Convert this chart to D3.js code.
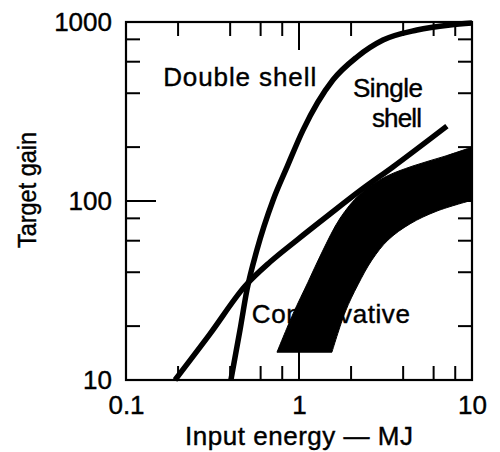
<!DOCTYPE html>
<html>
<head>
<meta charset="utf-8">
<script src="https://cdn.jsdelivr.net/npm/d3@7/dist/d3.min.js"></script>
<style>
  html, body { margin: 0; padding: 0; background: #fff; }
  text { font-family: "Liberation Sans", Arial, Helvetica, sans-serif; fill: #000; }
</style>
</head>
<body>
<script>
// ---------- data ----------
const xMajorTicks = [0.1, 1, 10];
const xTickLabels = ["0.1", "1", "10"];
const xMinorTicks = [0.2, 0.4, 0.6, 0.8, 2, 4, 6, 8];
const yMajorTicks = [10, 100, 1000];
const yTickLabels = ["10", "100", "1000"];
const yMinorTicks = [20, 40, 60, 80, 200, 400, 600, 800];

// Double shell curve (input energy MJ, target gain)
const doubleShellEnergy = [0.404, 0.456, 0.50, 0.571, 0.708, 0.853, 1.055, 1.57, 2.16, 3.06, 4.81, 7.46, 10];
const doubleShellGain   = [10, 19.0, 31.8, 53.2, 101, 155, 249, 474, 637, 793, 902, 962, 987];

// Single shell curve
const singleShellEnergy = [0.192, 0.306, 0.488, 0.680, 0.973, 1.51, 2.25, 3.49, 7.16];
const singleShellGain   = [10, 18.1, 33.5, 45.6, 60.5, 84.6, 114, 155, 262];

// Conservative band: upper (left) edge and lower (right) edge
const consUpperEnergy = [0.746, 0.923, 1.127, 1.36, 1.73, 2.25, 3.14, 4.56, 6.98, 10];
const consUpperGain   = [14.3, 23.4, 35.2, 51.9, 80.3, 109, 136, 157, 178, 200];
const consLowerEnergy = [1.55, 1.85, 2.19, 2.64, 3.27, 4.38, 6.28, 10];
const consLowerGain   = [14.3, 24.0, 34.0, 46.8, 60.5, 74.5, 87.9, 101];

// Annotation labels (anchored in data space)
const labelTexts  = ["Double shell", "Single", "shell", "Conservative"];
const labelEnergy = [0.164, 2.05, 2.64, 0.534];
const labelGain   = [438, 381, 259, 20.8];

const xTitle = "Input energy \u2014 MJ";
const yTitle = "Target gain";

// ---------- layout ----------
const W = 500, H = 452;
const L = 126, R = 472, T = 22, B = 380;

const svg = d3.select("body").append("svg").attr("width", W).attr("height", H);

const x = d3.scaleLog().domain([0.1, 10]).range([L, R]);
const y = d3.scaleLog().domain([10, 1000]).range([B, T]);

const zip = (a, b) => a.map((v, i) => [v, b[i]]);

// tick marks (inward, all four sides)
const xTicks = xMajorTicks.map(v => ({ v: v, len: 28 })).concat(xMinorTicks.map(v => ({ v: v, len: 14 })));
const yTicksL = yMajorTicks.map(v => ({ v: v, len: 30 })).concat(yMinorTicks.map(v => ({ v: v, len: 14 })));
const yTicksR = yMajorTicks.map(v => ({ v: v, len: 14 })).concat(yMinorTicks.map(v => ({ v: v, len: 14 })));
const tickG = svg.append("g").attr("stroke", "#000").attr("stroke-width", 2);
tickG.selectAll(".xb").data(xTicks).join("line").attr("class", "xb")
  .attr("x1", d => x(d.v)).attr("x2", d => x(d.v)).attr("y1", B).attr("y2", d => B - d.len);
tickG.selectAll(".xt").data(xTicks).join("line").attr("class", "xt")
  .attr("x1", d => x(d.v)).attr("x2", d => x(d.v)).attr("y1", T).attr("y2", d => T + d.len);
tickG.selectAll(".yl").data(yTicksL).join("line").attr("class", "yl")
  .attr("y1", d => y(d.v)).attr("y2", d => y(d.v)).attr("x1", L).attr("x2", d => L + d.len);
tickG.selectAll(".yr").data(yTicksR).join("line").attr("class", "yr")
  .attr("y1", d => y(d.v)).attr("y2", d => y(d.v)).attr("x1", R).attr("x2", d => R - d.len);

// annotation text (drawn under band)
const labelLen = [153, 70, 50, 158];
svg.append("g").selectAll("text")
  .data(labelTexts)
  .join("text")
  .attr("x", (d, i) => x(labelEnergy[i]))
  .attr("y", (d, i) => y(labelGain[i]))
  .attr("font-size", 26)
  .attr("stroke", "#000").attr("stroke-width", 0.4)
  .attr("textLength", (d, i) => labelLen[i])
  .attr("lengthAdjust", "spacing")
  .text(d => d);

// conservative band
const bandLine = d3.line().x(d => x(d[0])).y(d => y(d[1])).curve(d3.curveCatmullRom.alpha(0.5));
const upper = zip(consUpperEnergy, consUpperGain);
const lower = zip(consLowerEnergy, consLowerGain).reverse();
const bandPath = bandLine(upper) + "L" + bandLine(lower).slice(1) + "Z";
svg.append("path").attr("d", bandPath).attr("fill", "#000").attr("stroke", "#000").attr("stroke-width", 1);

// curves
const curveLine = d3.line().x(d => x(d[0])).y(d => y(d[1])).curve(d3.curveMonotoneX);
svg.append("path")
  .attr("d", curveLine(zip(doubleShellEnergy, doubleShellGain)))
  .attr("fill", "none").attr("stroke", "#000").attr("stroke-width", 5.5);
svg.append("path")
  .attr("d", curveLine(zip(singleShellEnergy, singleShellGain)))
  .attr("fill", "none").attr("stroke", "#000").attr("stroke-width", 5.5);

// tick labels via axes
function styleAxis(g) {
  g.select(".domain").remove();
  g.selectAll(".tick line").remove();
  g.selectAll(".tick text").attr("font-size", 26).attr("fill", "#000")
    .attr("stroke", "#000").attr("stroke-width", 0.4)
    .attr("font-family", '"Liberation Sans", Arial, sans-serif');
}
svg.append("g").attr("transform", `translate(0,${B})`)
  .call(d3.axisBottom(x).tickValues(xMajorTicks).tickSize(0).tickPadding(16)
    .tickFormat((d, i) => xTickLabels[i])).call(styleAxis);
svg.append("g").attr("transform", `translate(${L},0)`)
  .call(d3.axisLeft(y).tickValues(yMajorTicks).tickSize(0).tickPadding(14)
    .tickFormat((d, i) => yTickLabels[i])).call(styleAxis);

// frame
svg.append("rect").attr("x", L).attr("y", T).attr("width", R - L).attr("height", B - T)
  .attr("fill", "none").attr("stroke", "#000").attr("stroke-width", 2.2);

// axis titles
svg.append("text").attr("x", (L + R) / 2).attr("y", 445)
  .attr("text-anchor", "middle").attr("font-size", 26)
  .attr("stroke", "#000").attr("stroke-width", 0.4)
  .attr("textLength", 228).attr("lengthAdjust", "spacing")
  .text(xTitle);
svg.append("text").attr("transform", "translate(36,190) rotate(-90)")
  .attr("text-anchor", "middle").attr("font-size", 25)
  .attr("stroke", "#000").attr("stroke-width", 0.4)
  .attr("textLength", 116).attr("lengthAdjust", "spacingAndGlyphs")
  .text(yTitle);
</script>
</body>
</html>
